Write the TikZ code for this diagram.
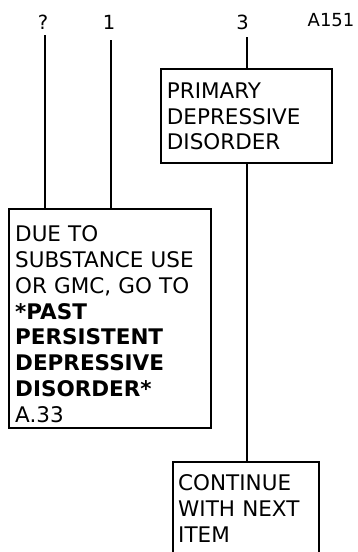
\documentclass[tikz,border=0pt]{standalone}
\usepackage{fontspec}
\setmainfont{DejaVu Sans}
\begin{document}
\begin{tikzpicture}[x=1pt,y=1pt,
  box/.style={draw, line width=2pt, rectangle, inner sep=0pt, outer sep=0pt, anchor=north west},
  boxtext/.style={anchor=base west, inner sep=0pt, align=left, text width=#1,
    font=\fontsize{21.5}{25.8}\selectfont},
  colhead/.style={anchor=base, inner sep=0pt, font=\fontsize{19.5}{22}\selectfont},
  itemcode/.style={anchor=base west, inner sep=0pt, font=\fontsize{18}{21}\selectfont},
  link/.style={line width=2pt}]
\useasboundingbox (0,0) rectangle (357,-552);

% column headings and item code
\node[colhead] (qmark) at (43,-29.3) {?};
\node[colhead] (one) at (109,-29.3) {1};
\node[colhead] (three) at (242.5,-29.3) {3};
\node[itemcode] (code) at (307.5,-26.7) {A151};

% boxes
\node[box, minimum width=170.7, minimum height=94] (primary) at (161,-69.3) {};
\node[box, minimum width=201.7, minimum height=218.4] (due) at (9,-209.3) {};
\node[box, minimum width=146, minimum height=98] (cont) at (172.7,-462) {};

% box texts
\node[boxtext=160] (primarytxt) at (166.7,-98.3)
  {PRIMARY\\DEPRESSIVE\\DISORDER};
\node[boxtext=190] (duetxt) at (15,-241.7)
  {DUE TO\\SUBSTANCE USE\\OR GMC, GO TO\\\textbf{*PAST}\\\textbf{PERSISTENT}\\\textbf{DEPRESSIVE}\\\textbf{DISORDER*}\\A.33};
\node[boxtext=140] (conttxt) at (178,-490.7)
  {CONTINUE\\WITH NEXT\\ITEM};

% connector tops
\coordinate (qtop) at (45,-35);
\coordinate (onetop) at (110.7,-40);
\coordinate (threetop) at (246.7,-37);

% connectors
\draw[link] (qtop) -- (qtop |- due.north);
\draw[link] (onetop) -- (onetop |- due.north);
\draw[link] (threetop) -- (threetop |- primary.north);
\draw[link] (threetop |- primary.south) -- (threetop |- cont.north);
\end{tikzpicture}
\end{document}
